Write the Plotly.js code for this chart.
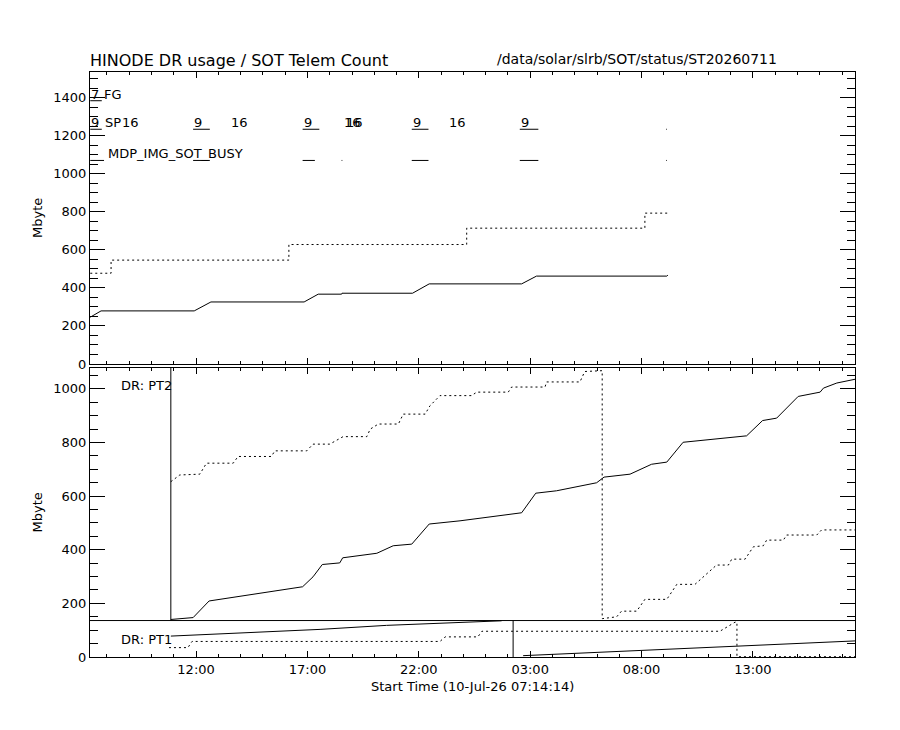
<!DOCTYPE html>
<html>
<head>
<meta charset="utf-8">
<script src="https://cdn.plot.ly/plotly-3.0.1.min.js"></script>
<style>
  html, body { margin: 0; padding: 0; background: #fff; }
  #chart { width: 900px; height: 730px; }
</style>
</head>
<body>
<div id="chart"></div>
<script>
// day-of-month + clock time, all in July 2026
const day = (s) => (s === null ? null : "2026-07-" + s);

const axisStart = "10 07:14:14";
const axisEnd = "11 17:35";

// --- top panel: SOT telemetry count (Mbyte) ---
const topWriteT = ["10 07:15", "10 07:44", "10 11:55", "10 12:40", "10 16:51", "10 17:29",
  "10 18:32", "10 18:33", "10 21:43", "10 22:28", "11 02:37", "11 03:17", "11 09:08", "11 09:11"];
const topWriteMb = [246, 279, 279, 326, 326, 367, 367, 372, 372, 421, 421, 462, 462, 467];

const topReadT = ["10 07:15", "10 08:11", "10 08:11", "10 16:10", "10 16:10", "11 00:09",
  "11 00:09", "11 08:09", "11 08:09", "11 09:11"];
const topReadMb = [477, 477, 546, 546, 628, 628, 714, 714, 793, 793];

// observation table rows in the top panel
const rowNames = ["FG", "SP", "MDP_IMG_SOT_BUSY"];
const rowNameT = ["10 07:49", "10 07:52", "10 08:00"];
const rowMb = [1384, 1234, 1070];

const fgSegStart = ["10 07:15"];
const fgSegEnd = ["10 07:46"];
const fgSegLabel = ["7"];

const spSegStart = ["10 07:15", "10 11:52", "10 16:47", "10 21:41", "11 02:32", "11 09:06"];
const spSegEnd = ["10 07:46", "10 12:37", "10 17:32", "10 22:26", "11 03:22", "11 09:08"];
const spSegLabel = ["9", "9", "9", "9", "9", ""];
const spCountT = ["10 08:38", "10 13:31", "10 18:35", "10 18:41", "10 23:19"];
const spCountLabel = ["16", "16", "16", "16", "16"];

const mdpSegStart = ["10 07:15", "10 11:52", "10 16:47", "10 18:32", "10 21:41", "11 02:32", "11 09:06"];
const mdpSegEnd = ["10 07:52", "10 12:37", "10 17:20", "10 18:34", "10 22:26", "11 03:22", "11 09:08"];

// --- bottom panel: data recorder partitions (Mbyte) ---
const pt1Top = 136;
const pt2Marker = "10 10:52";
const pt1Marker = "11 02:14";

const pt2WriteT = ["10 10:52", "10 11:52", "10 12:35", "10 16:47", "10 17:15", "10 17:40",
  "10 18:27", "10 18:35", "10 20:07", "10 20:51", "10 21:41", "10 22:28", "10 23:51",
  "11 02:37", "11 03:15", "11 04:11", "11 05:59", "11 06:19", "11 07:29", "11 08:27",
  "11 09:08", "11 09:52", "11 12:43", "11 13:26", "11 14:04", "11 15:02", "11 16:01",
  "11 16:10", "11 16:46", "11 17:35"];
const pt2WriteMb = [140, 147, 209, 262, 299, 345, 351, 370, 387, 415, 421, 496, 508,
  538, 611, 620, 650, 671, 682, 719, 727, 801, 825, 882, 891, 972, 988, 1003, 1022, 1036];

const pt2ReadT = ["10 10:52", "10 11:16", "10 12:10", "10 12:28", "10 13:40", "10 13:53",
  "10 15:23", "10 15:32", "10 16:58", "10 17:15", "10 18:00", "10 18:36", "10 19:40",
  "10 19:49", "10 20:11", "10 21:05", "10 21:18", "10 22:17", "10 22:30", "10 22:57",
  "11 00:22", "11 00:36", "11 02:01", "11 02:10", "11 03:40", "11 03:44", "11 05:14",
  "11 05:27", "11 06:14", "11 06:14", "11 06:53", "11 07:06", "11 07:47", "11 08:09",
  "11 09:08", "11 09:35", "11 10:24", "11 11:22", "11 11:54", "11 12:03", "11 12:39",
  "11 13:01", "11 13:28", "11 13:37", "11 14:22", "11 14:31", "11 15:52", "11 16:05",
  "11 17:35"];
const pt2ReadMb = [654, 679, 682, 723, 723, 748, 748, 769, 769, 794, 794, 822, 822,
  850, 869, 869, 906, 906, 937, 975, 975, 988, 988, 1007, 1007, 1026, 1026,
  1065, 1068, 143, 150, 171, 171, 215, 215, 271, 271, 343, 343, 365, 365,
  411, 415, 436, 436, 455, 455, 474, 474];

const pt1WriteT = ["10 10:52", "10 13:04", "10 17:34", "10 20:33", "10 22:57", "11 00:45",
  "11 01:43", null, "11 02:41", "11 04:56", "11 07:02", "11 10:55", "11 14:58", "11 17:35"];
const pt1WriteMb = [78, 87, 103, 118, 127, 133, 135, null, 5, 13, 22, 36, 50, 60];

const pt1ReadT = ["10 10:47", "10 11:38", "10 11:49", "10 22:57", "10 23:11", "11 00:39",
  "11 00:50", "11 11:31", "11 12:12", "11 12:17", "11 12:17", "11 17:35"];
const pt1ReadMb = [35, 35, 58, 58, 75, 75, 96, 96, 130, 130, 1, 1];

const topMax = 1535;
const bottomMax = 1078;

const font = { family: "DejaVu Sans, sans-serif", size: 13, color: "#000" };
const solid = { color: "#000", width: 1 };
const dotted = { color: "#000", width: 1, dash: "2px,3px" };

function line(xs, ys, style, xa, ya) {
  return {
    type: "scatter", mode: "lines", x: xs.map(day), y: ys,
    line: style, xaxis: xa, yaxis: ya, connectgaps: false,
    hoverinfo: "skip", showlegend: false,
  };
}

function segments(starts, ends, level) {
  const xs = [], ys = [];
  starts.forEach((s, i) => {
    xs.push(s, ends[i], null);
    ys.push(level, level, null);
  });
  return line(xs, ys, solid, "x2", "y2");
}

const data = [
  line(topWriteT, topWriteMb, solid, "x2", "y2"),
  line(topReadT, topReadMb, dotted, "x2", "y2"),
  segments(fgSegStart, fgSegEnd, rowMb[0]),
  segments(spSegStart, spSegEnd, rowMb[1]),
  segments(mdpSegStart, mdpSegEnd, rowMb[2]),
  line([axisStart, axisEnd], [pt1Top, pt1Top], solid, "x", "y"),
  line([pt2Marker, pt2Marker], [pt1Top, bottomMax], solid, "x", "y"),
  line([pt1Marker, pt1Marker], [0, pt1Top], solid, "x", "y"),
  line(pt2WriteT, pt2WriteMb, solid, "x", "y"),
  line(pt2ReadT, pt2ReadMb, dotted, "x", "y"),
  line(pt1WriteT, pt1WriteMb, solid, "x", "y"),
  line(pt1ReadT, pt1ReadMb, dotted, "x", "y"),
];

// text labels of the top panel table
const annotations = [];
function label(text, t, mb, xa, ya, yanchor, shift) {
  annotations.push({
    text: text, x: day(t), y: mb, xref: xa, yref: ya,
    xanchor: "left", yanchor: yanchor, yshift: shift, showarrow: false,
    font: font, borderpad: 0,
  });
}
rowNames.forEach((n, i) => label(n, rowNameT[i], rowMb[i], "x2", "y2", "bottom", -2));
fgSegStart.forEach((t, i) => label(fgSegLabel[i], t, rowMb[0], "x2", "y2", "bottom", -2));
spSegStart.forEach((t, i) => spSegLabel[i] && label(spSegLabel[i], t, rowMb[1], "x2", "y2", "bottom", -2));
spCountT.forEach((t, i) => label(spCountLabel[i], t, rowMb[1], "x2", "y2", "bottom", -2));

label("DR: PT2", "10 08:35", 1012, "x", "y", "middle", 0);
label("DR: PT1", "10 08:35", 67, "x", "y", "middle", 0);

annotations.push(
  {
    text: "/data/solar/slrb/SOT/status/ST20260711", xref: "paper", yref: "paper",
    x: 0.5294, y: 1, xanchor: "left", yanchor: "bottom", yshift: 3, showarrow: false,
    font: Object.assign({}, font, { size: 14 }),
  },
  {
    text: "Mbyte", xref: "paper", yref: "y2 domain", x: -0.068, y: 0.5,
    xanchor: "center", yanchor: "middle", textangle: -90, showarrow: false, font: font,
  },
  {
    text: "Mbyte", xref: "paper", yref: "y domain", x: -0.068, y: 0.5,
    xanchor: "center", yanchor: "middle", textangle: -90, showarrow: false, font: font,
  },
  {
    text: "Start Time (10-Jul-26 07:14:14)", xref: "paper", yref: "paper",
    x: 0.5, y: -0.0496, xanchor: "center", yanchor: "middle", showarrow: false, font: font,
  }
);

const xAxisBase = {
  type: "date",
  range: [day(axisStart), day(axisEnd)],
  tick0: "2026-07-10 02:00",
  dtick: 5 * 3600000,
  tickformat: "%H:%M",
  ticks: "inside", ticklen: 6, tickwidth: 1, tickcolor: "#000",
  minor: { dtick: 3600000, ticks: "inside", ticklen: 3, tickwidth: 1, tickcolor: "#000", showgrid: false },
  showline: true, linecolor: "#000", linewidth: 1, mirror: "ticks",
  showgrid: false, zeroline: false, tickfont: font, fixedrange: true,
};

const yAxisBase = {
  tick0: 0, dtick: 200,
  ticks: "inside", ticklen: 15, tickwidth: 1, tickcolor: "#000",
  minor: { dtick: 50, ticks: "inside", ticklen: 8, tickwidth: 1, tickcolor: "#000", showgrid: false },
  showline: true, linecolor: "#000", linewidth: 1, mirror: "ticks",
  showgrid: false, zeroline: false, tickfont: font, fixedrange: true,
};

const layout = {
  width: 900, height: 730,
  margin: { l: 90, r: 45, t: 72, b: 73 },
  paper_bgcolor: "#fff", plot_bgcolor: "#fff",
  showlegend: false,
  title: {
    text: "HINODE DR usage / SOT Telem Count",
    font: Object.assign({}, font, { size: 16 }),
    xref: "paper", x: 0, xanchor: "left",
    yref: "paper", y: 1, yanchor: "bottom", pad: { b: 6 },
  },
  xaxis: Object.assign({}, xAxisBase, { domain: [0, 1], anchor: "y" }),
  yaxis: Object.assign({}, yAxisBase, { domain: [0, 0.494], anchor: "x", range: [0, bottomMax] }),
  xaxis2: Object.assign({}, xAxisBase, { domain: [0, 1], anchor: "y2", matches: "x", showticklabels: false }),
  yaxis2: Object.assign({}, yAxisBase, { domain: [0.5009, 1], anchor: "x2", range: [0, topMax] }),
  annotations: annotations,
};

Plotly.newPlot("chart", data, layout, { staticPlot: true, displayModeBar: false });
</script>
</body>
</html>
